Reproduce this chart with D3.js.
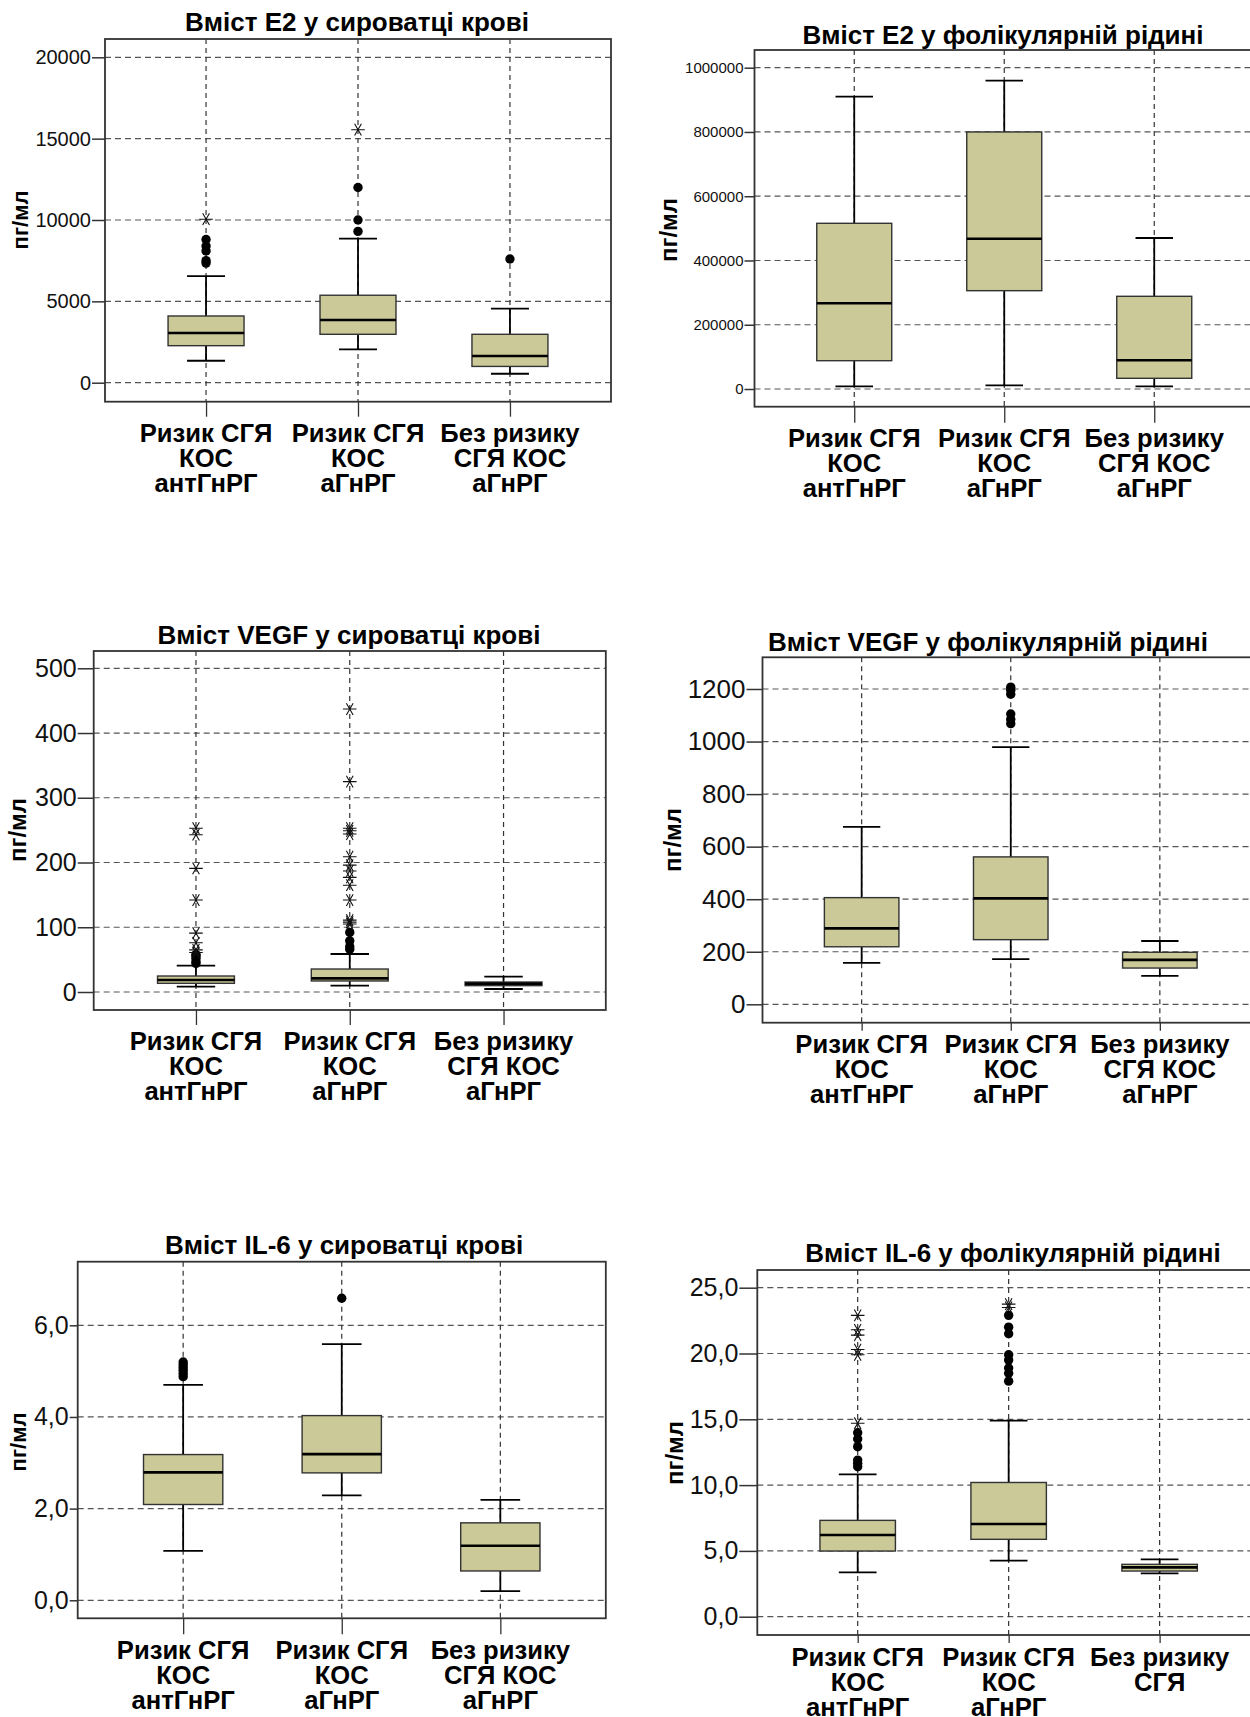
<!DOCTYPE html>
<html>
<head>
<meta charset="utf-8">
<script src="https://cdn.jsdelivr.net/npm/d3@7"></script>
<style>
  body { margin: 0; background: #fff; }
  svg { display: block; font-family: "Liberation Sans", Arial, sans-serif; }
</style>
</head>
<body>
<svg id="chart" width="1250" height="1717"></svg>
<script>
// group names (one array of lines per box)
const groupLabels = [["Ризик СГЯ", "КОС", "антГнРГ"], ["Ризик СГЯ", "КОС", "аГнРГ"], ["Без ризику", "СГЯ КОС", "аГнРГ"]];
const groupLabelsShort = [["Ризик СГЯ", "КОС", "антГнРГ"], ["Ризик СГЯ", "КОС", "аГнРГ"], ["Без ризику", "СГЯ"]];

// boxes: [lower whisker, Q1, median, Q3, upper whisker]
const e2SerumBoxes = [[1350, 2275, 3050, 4100, 6550], [2050, 2975, 3850, 5375, 8850], [550, 1000, 1640, 2975, 4550]];
const e2SerumOutliers = [[7350, 7500, 8100, 8400, 8800], [9300, 10000, 12000], [7600]];
const e2SerumExtremes = [[10050], [15550], []];
const e2SerumTicks = [0, 5000, 10000, 15000, 20000];

const e2FluidBoxes = [[8300, 88100, 266700, 515700, 909700], [11400, 306000, 467800, 800000, 959500], [8300, 33300, 89300, 288500, 470000]];
const e2FluidOutliers = [[], [], []];
const e2FluidExtremes = [[], [], []];
const e2FluidTicks = [0, 200000, 400000, 600000, 800000, 1000000];

const vegfSerumBoxes = [[8.2, 13.4, 18.5, 24.7, 40.6], [9.8, 17, 21.1, 35.5, 58.7], [4.6, 9.8, 12.9, 15.4, 23.7]];
const vegfSerumOutliers = [[44, 47, 52, 56, 58], [66, 70, 79, 92], []];
const vegfSerumExtremes = [[61, 65, 76, 91, 142, 191, 243, 253], [105, 108, 111, 142, 165, 177, 187, 196, 209, 244, 249, 253, 325, 437], []];
const vegfSerumTicks = [0, 100, 200, 300, 400, 500];

const vegfFluidBoxes = [[158, 219, 289, 406, 675], [172, 246, 403, 561, 979], [108, 138, 169, 198, 241]];
const vegfFluidOutliers = [[], [1068, 1085, 1105, 1180, 1195, 1207], []];
const vegfFluidExtremes = [[], [], []];
const vegfFluidTicks = [0, 200, 400, 600, 800, 1000, 1200];

const il6SerumBoxes = [[1.08, 2.09, 2.79, 3.18, 4.70], [2.29, 2.78, 3.19, 4.03, 5.59], [0.20, 0.64, 1.19, 1.69, 2.19]];
const il6SerumOutliers = [[4.88, 4.95, 5.02, 5.08, 5.14, 5.2], [6.59], []];
const il6SerumExtremes = [[], [], []];
const il6SerumTicks = [0, 2, 4, 6];

const il6FluidBoxes = [[3.37, 4.99, 6.21, 7.32, 10.82], [4.26, 5.88, 7.04, 10.2, 14.9], [3.3, 3.47, 3.75, 3.98, 4.36]];
const il6FluidOutliers = [[11.4, 11.66, 11.9, 12.92, 13.5, 13.98], [17.9, 18.5, 18.9, 19.5, 19.9, 21.5, 22.0, 22.9], []];
const il6FluidExtremes = [[14.7, 19.9, 20.3, 21.4, 21.8, 22.9], [23.5, 23.75], []];
const il6FluidTicks = [0, 5, 10, 15, 20, 25];

const commaFmt = v => d3.format(".1f")(v).replace(".", ",");

class BoxPlot {
    constructor(_config, _boxes, _outliers, _extremes, _ticks, _labels) {
        this.config = _config;
        this.boxes = _boxes;
        this.outliers = _outliers;
        this.extremes = _extremes;
        this.ticks = _ticks;
        this.labels = _labels;
        this.initVis();
    }

    initVis() {
        let vis = this;
        let c = vis.config;

        vis.g = d3.select('#chart').append('g');

        vis.xScale = d3.scalePoint()
            .domain(d3.range(vis.boxes.length))
            .range([c.left, c.right])
            .padding(0.665);
        vis.yScale = d3.scaleLinear()
            .domain(c.yDomain)
            .range([c.bottom, c.top]);

        let step = vis.xScale.step();
        let bw = step * 0.5;
        let cap = step * 0.25;

        // horizontal grid
        vis.g.selectAll('.hgrid')
            .data(vis.ticks)
            .enter().append('line')
            .attr('x1', c.left).attr('x2', c.right)
            .attr('y1', d => vis.yScale(d)).attr('y2', d => vis.yScale(d))
            .attr('stroke', '#555').attr('stroke-width', 1.2)
            .attr('stroke-dasharray', '6,4');

        // vertical grid
        vis.g.selectAll('.vgrid')
            .data(d3.range(vis.boxes.length))
            .enter().append('line')
            .attr('x1', d => vis.xScale(d)).attr('x2', d => vis.xScale(d))
            .attr('y1', c.top).attr('y2', c.bottom)
            .attr('stroke', '#333').attr('stroke-width', 1.2)
            .attr('stroke-dasharray', '5,4');

        // y axis
        let yAxis = d3.axisLeft(vis.yScale)
            .tickValues(vis.ticks)
            .tickSize(c.tickLen)
            .tickPadding(1)
            .tickFormat(c.fmt);
        let ya = vis.g.append('g')
            .attr('transform', `translate(${c.left},0)`)
            .call(yAxis);
        ya.select('.domain').remove();
        ya.selectAll('line').attr('stroke', '#333').attr('stroke-width', 1.5);
        ya.selectAll('text')
            .attr('font-family', '"Liberation Sans", Arial, sans-serif')
            .attr('font-size', c.tickFont)
            .attr('fill', '#111');

        // x axis ticks under frame
        let xAxis = d3.axisBottom(vis.xScale).tickSize(c.xTick).tickFormat('');
        let xa = vis.g.append('g')
            .attr('transform', `translate(0,${c.bottom})`)
            .call(xAxis);
        xa.select('.domain').remove();
        xa.selectAll('line').attr('stroke', '#333').attr('stroke-width', 1.3);

        // category labels
        vis.g.selectAll('.cat')
            .data(vis.labels)
            .enter().append('text')
            .attr('text-anchor', 'middle')
            .attr('font-weight', 'bold')
            .attr('font-size', 25.6)
            .attr('fill', '#000')
            .each(function(lines, i) {
                d3.select(this).selectAll('tspan')
                    .data(lines)
                    .enter().append('tspan')
                    .attr('x', vis.xScale(i))
                    .attr('y', (d, j) => c.labelY + j * 25)
                    .attr('dy', '0.35em')
                    .text(d => d);
            });

        // whiskers
        let bx = vis.g.selectAll('.box')
            .data(vis.boxes)
            .enter().append('g');

        bx.append('line')
            .attr('x1', (d, i) => vis.xScale(i)).attr('x2', (d, i) => vis.xScale(i))
            .attr('y1', d => vis.yScale(d[0])).attr('y2', d => vis.yScale(d[4]))
            .attr('stroke', '#000').attr('stroke-width', 1.8);
        bx.selectAll('.cap')
            .data((d, i) => [[i, d[0]], [i, d[4]]])
            .enter().append('line')
            .attr('x1', d => vis.xScale(d[0]) - cap / 2).attr('x2', d => vis.xScale(d[0]) + cap / 2)
            .attr('y1', d => vis.yScale(d[1])).attr('y2', d => vis.yScale(d[1]))
            .attr('stroke', '#000').attr('stroke-width', 1.8);

        bx.append('rect')
            .attr('x', (d, i) => vis.xScale(i) - bw / 2)
            .attr('width', bw)
            .attr('y', d => vis.yScale(d[3]))
            .attr('height', d => vis.yScale(d[1]) - vis.yScale(d[3]))
            .attr('fill', '#cac997')
            .attr('stroke', '#333').attr('stroke-width', 1.4);

        bx.append('line')
            .attr('x1', (d, i) => vis.xScale(i) - bw / 2).attr('x2', (d, i) => vis.xScale(i) + bw / 2)
            .attr('y1', d => vis.yScale(d[2])).attr('y2', d => vis.yScale(d[2]))
            .attr('stroke', '#000').attr('stroke-width', 2.6);

        // outliers (circles) and extremes (asterisks)
        let pts = [];
        vis.outliers.forEach((arr, i) => arr.forEach(v => pts.push({ i: i, v: v })));
        vis.g.selectAll('.out')
            .data(pts)
            .enter().append('circle')
            .attr('cx', d => vis.xScale(d.i))
            .attr('cy', d => vis.yScale(d.v))
            .attr('r', 4.7)
            .attr('fill', '#000');

        let ext = [];
        vis.extremes.forEach((arr, i) => arr.forEach(v => ext.push({ i: i, v: v })));
        let star = d3.symbol(d3.symbolAsterisk, 130);
        vis.g.selectAll('.ext')
            .data(ext)
            .enter().append('path')
            .attr('d', star)
            .attr('transform', d => `translate(${vis.xScale(d.i)},${vis.yScale(d.v)}) rotate(90)`)
            .attr('fill', 'none')
            .attr('stroke', '#111').attr('stroke-width', 1.1);

        // frame
        vis.g.append('rect')
            .attr('x', c.left).attr('y', c.top)
            .attr('width', c.right - c.left).attr('height', c.bottom - c.top)
            .attr('fill', 'none')
            .attr('stroke', '#333').attr('stroke-width', 1.8);

        // title
        vis.g.append('text')
            .attr('x', c.titleX).attr('y', c.titleY)
            .attr('dy', '0.35em')
            .attr('text-anchor', 'middle')
            .attr('font-weight', 'bold')
            .attr('font-size', 26)
            .text(c.title);

        // y label
        vis.g.append('text')
            .attr('transform', `translate(${c.yLabelX},${c.yLabelY}) rotate(-90)`)
            .attr('dy', '0.35em')
            .attr('text-anchor', 'middle')
            .attr('font-weight', 'bold')
            .attr('font-size', c.yLabelFont)
            .text('пг/мл');
    }
}

new BoxPlot({ left: 105, right: 611, top: 39, bottom: 401.7, yDomain: [-1168, 21125],
    tickLen: 13, tickFont: 20, xTick: 15, fmt: d3.format('d'), labelY: 433,
    title: 'Вміст E2 у сироватці крові', titleX: 357, titleY: 22,
    yLabelX: 20, yLabelY: 220, yLabelFont: 22 },
    e2SerumBoxes, e2SerumOutliers, e2SerumExtremes, e2SerumTicks, groupLabels);

new BoxPlot({ left: 754.5, right: 1254, top: 50, bottom: 406.7, yDomain: [-55090, 1055090],
    tickLen: 10, tickFont: 15, xTick: 16, fmt: d3.format('d'), labelY: 438,
    title: 'Вміст E2 у фолікулярній рідині', titleX: 1003, titleY: 35,
    yLabelX: 669, yLabelY: 230, yLabelFont: 24 },
    e2FluidBoxes, e2FluidOutliers, e2FluidExtremes, e2FluidTicks, groupLabels);

new BoxPlot({ left: 93.7, right: 605.8, top: 651, bottom: 1010, yDomain: [-27.8, 526.7],
    tickLen: 16, tickFont: 25, xTick: 15, fmt: d3.format('d'), labelY: 1041,
    title: 'Вміст VEGF у сироватці крові', titleX: 349, titleY: 635,
    yLabelX: 18, yLabelY: 830, yLabelFont: 24 },
    vegfSerumBoxes, vegfSerumOutliers, vegfSerumExtremes, vegfSerumTicks, groupLabels);

new BoxPlot({ left: 762.5, right: 1259, top: 657.3, bottom: 1022.7, yDomain: [-70, 1320.6],
    tickLen: 16, tickFont: 26, xTick: 8, fmt: d3.format('d'), labelY: 1044,
    title: 'Вміст VEGF у фолікулярній рідині', titleX: 988, titleY: 642,
    yLabelX: 673, yLabelY: 840, yLabelFont: 24 },
    vegfFluidBoxes, vegfFluidOutliers, vegfFluidExtremes, vegfFluidTicks, groupLabels);

new BoxPlot({ left: 77.7, right: 605.8, top: 1261.7, bottom: 1618.3, yDomain: [-0.393, 7.388],
    tickLen: 8, tickFont: 25, xTick: 16, fmt: commaFmt, labelY: 1650,
    title: 'Вміст IL-6 у сироватці крові', titleX: 344, titleY: 1245,
    yLabelX: 18, yLabelY: 1442, yLabelFont: 22 },
    il6SerumBoxes, il6SerumOutliers, il6SerumExtremes, il6SerumTicks, groupLabels);

new BoxPlot({ left: 757.3, right: 1260, top: 1270, bottom: 1635, yDomain: [-1.39, 26.345],
    tickLen: 18, tickFont: 25, xTick: 8, fmt: commaFmt, labelY: 1657,
    title: 'Вміст IL-6 у фолікулярній рідині', titleX: 1013, titleY: 1253,
    yLabelX: 675, yLabelY: 1453, yLabelFont: 24 },
    il6FluidBoxes, il6FluidOutliers, il6FluidExtremes, il6FluidTicks, groupLabelsShort);
</script>
</body>
</html>
